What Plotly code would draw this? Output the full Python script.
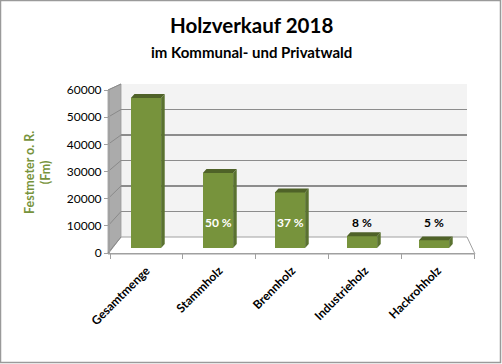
import plotly.graph_objects as go

# ---------------- data ----------------
categories = ["Gesamtmenge", "Stammholz", "Brennholz", "Industrieholz", "Hackrohholz"]
volumes = [57000, 28500, 21100, 4500, 2900]
share_labels = ["", "50 %", "37 %", "8 %", "5 %"]
y_ticks = [0, 10000, 20000, 30000, 40000, 50000, 60000]
y_tick_text = ["0", "10000", "20000", "30000", "40000", "50000", "60000"]
title_main = "Holzverkauf 2018"
title_sub = "im Kommunal- und Privatwald"
y_title = "Festmeter o. R.<br>(Fm)"

# ---------------- geometry helpers ----------------
W, H = 502, 364
L, R, T, B = 108, 27, 84, 110
PW = W - L - R
PH = H - T - B


def px(x):
    return (x - L) / PW


def py(y):
    return (T + PH - y) / PH


YMAX = 60000
FONT = "Lato"
GREEN = "#77933C"
TOP = "#4F6228"
SIDE = "#5A7230"
GRID = "#8C8C8C"

bar_w = 0.42
dx = 0.05
dy = 1500

fig = go.Figure()

# invisible anchors for the axes
fig.add_trace(go.Scatter(x=[0], y=[0], xaxis="x", yaxis="y", mode="markers",
                         marker=dict(opacity=0), hoverinfo="skip", showlegend=False))
fig.add_trace(go.Scatter(x=[0], y=[0], xaxis="x2", yaxis="y3", mode="markers",
                         marker=dict(opacity=0), hoverinfo="skip", showlegend=False))

xs = list(range(len(categories)))

# front faces
fig.add_trace(go.Bar(x=xs, y=volumes, xaxis="x3", yaxis="y2", width=bar_w,
                     marker=dict(color=GREEN, line=dict(width=0)),
                     hoverinfo="skip", showlegend=False))

# top and side faces
tx, ty, sx, sy = [], [], [], []
for i, v in zip(xs, volumes):
    fl, fr = i - bar_w / 2, i + bar_w / 2
    tx += [fl, fr, fr + dx, fl + dx, fl, None]
    ty += [v, v, v + dy, v + dy, v, None]
    sx += [fr, fr, fr + dx, fr + dx, fr, None]
    sy += [0, v, v + dy, dy, 0, None]
fig.add_trace(go.Scatter(x=sx, y=sy, xaxis="x3", yaxis="y2", mode="lines", fill="toself",
                         fillcolor=SIDE, line=dict(width=0, color=SIDE),
                         hoverinfo="skip", showlegend=False))
fig.add_trace(go.Scatter(x=tx, y=ty, xaxis="x3", yaxis="y2", mode="lines", fill="toself",
                         fillcolor=TOP, line=dict(width=0, color=TOP),
                         hoverinfo="skip", showlegend=False))

shapes = []
# back wall
shapes.append(dict(type="rect", xref="x2 domain", yref="y3 domain", x0=0, x1=1, y0=0, y1=1,
                   fillcolor="#F3F3F3", line=dict(width=0), layer="below"))
# left side wall
shapes.append(dict(type="path", xref="paper", yref="paper", layer="below",
                   path=f"M {px(108)} {py(253)} L {px(108)} {py(90)} L {px(121)} {py(84)} L {px(121)} {py(237)} Z",
                   fillcolor="#ABABAB", line=dict(width=0.8, color="#9A9A9A")))
# floor
shapes.append(dict(type="path", xref="paper", yref="paper", layer="below",
                   path=f"M {px(108)} {py(254)} L {px(121)} {py(237)} L {px(467)} {py(237)} L {px(475)} {py(254)} Z",
                   fillcolor="#FFFFFF", line=dict(width=1, color="#A0A0A0")))
# slanted grid lines on left wall
for v in y_ticks:
    yf = 253 - v / YMAX * 163
    yb = 237 - v / YMAX * 153
    shapes.append(dict(type="line", xref="paper", yref="paper", layer="between",
                       x0=px(108), y0=py(yf), x1=px(121), y1=py(yb),
                       line=dict(width=1, color="#8A8A8A")))
# border
shapes.append(dict(type="rect", xref="paper", yref="paper",
                   x0=px(0.5), x1=px(500.5), y0=py(362.5), y1=py(0.5),
                   line=dict(width=1.5, color="#9A9A9A")))

annotations = [
    dict(text=f"<b>{title_main}</b>", xref="paper", yref="paper", x=px(251), y=py(25),
         showarrow=False, font=dict(family=FONT, size=20.5, color="#000000"),
         xanchor="center", yanchor="middle"),
    dict(text=f"<b>{title_sub}</b>", xref="paper", yref="paper", x=px(251), y=py(52),
         showarrow=False, font=dict(family=FONT, size=15, color="#000000"),
         xanchor="center", yanchor="middle"),
    dict(text=f"<b>{y_title}</b>", xref="paper", yref="paper", x=px(37), y=py(173),
         showarrow=False, textangle=-90, font=dict(family=FONT, size=12.5, color=GREEN),
         xanchor="center", yanchor="middle"),
]
for i, (lab, v) in enumerate(zip(share_labels, volumes)):
    if not lab:
        continue
    annotations.append(dict(text=f"<b>{lab}</b>", xref="x3", yref="y2", x=i, y=9500,
                            showarrow=False,
                            font=dict(family=FONT, size=12,
                                      color="#FFFFFF" if v > 13000 else "#000000"),
                            xanchor="center", yanchor="middle"))

fig.update_layout(
    width=W, height=H,
    margin=dict(l=L, r=R, t=T, b=B, pad=0),
    paper_bgcolor="#FFFFFF", plot_bgcolor="rgba(0,0,0,0)",
    showlegend=False,
    bargap=0,
    hovermode=False,
    shapes=shapes,
    annotations=annotations,
    xaxis=dict(domain=[px(110), px(474)], range=[-0.5, 4.5], anchor="y",
               tickmode="array", tickvals=xs, ticktext=categories, tickangle=-45,
               ticks="", showgrid=False, zeroline=False, ticklabelstandoff=5,
               showline=True, linecolor="#A0A0A0", linewidth=1,
               tickfont=dict(family=FONT, size=12, color="#000000", weight="bold"),
               minor=dict(tickmode="array", tickvals=[-0.5, 0.5, 1.5, 2.5, 3.5, 4.5],
                          ticks="outside", ticklen=5, tickcolor="#A0A0A0", showgrid=False)),
    yaxis=dict(domain=[py(253), py(90)], range=[0, YMAX], anchor="x",
               tickmode="array", tickvals=y_ticks, ticktext=y_tick_text,
               ticks="outside", ticklen=5,
               tickcolor="#A0A0A0", showline=True, linecolor="#A0A0A0", linewidth=1,
               showgrid=False, zeroline=False,
               tickfont=dict(family=FONT, size=12, color="#000000")),
    xaxis2=dict(domain=[px(121), px(467)], range=[0, 1], anchor="y3", visible=False),
    yaxis3=dict(domain=[py(237), py(84)], range=[0, YMAX], anchor="x2",
                tickmode="array", tickvals=y_ticks, showticklabels=False, ticks="",
                showgrid=True, gridcolor=GRID, gridwidth=1.2, zeroline=False, showline=False),
    xaxis3=dict(domain=[px(110), px(470)], range=[-0.5, 4.5], anchor="y2", visible=False),
    yaxis2=dict(domain=[py(248), py(90)], range=[0, YMAX], anchor="x3", visible=False),
)

fig.write_html("out.html",
               config={"displayModeBar": False, "staticPlot": True},
               post_script="document.body.style.margin='0';document.body.style.padding='0';")
